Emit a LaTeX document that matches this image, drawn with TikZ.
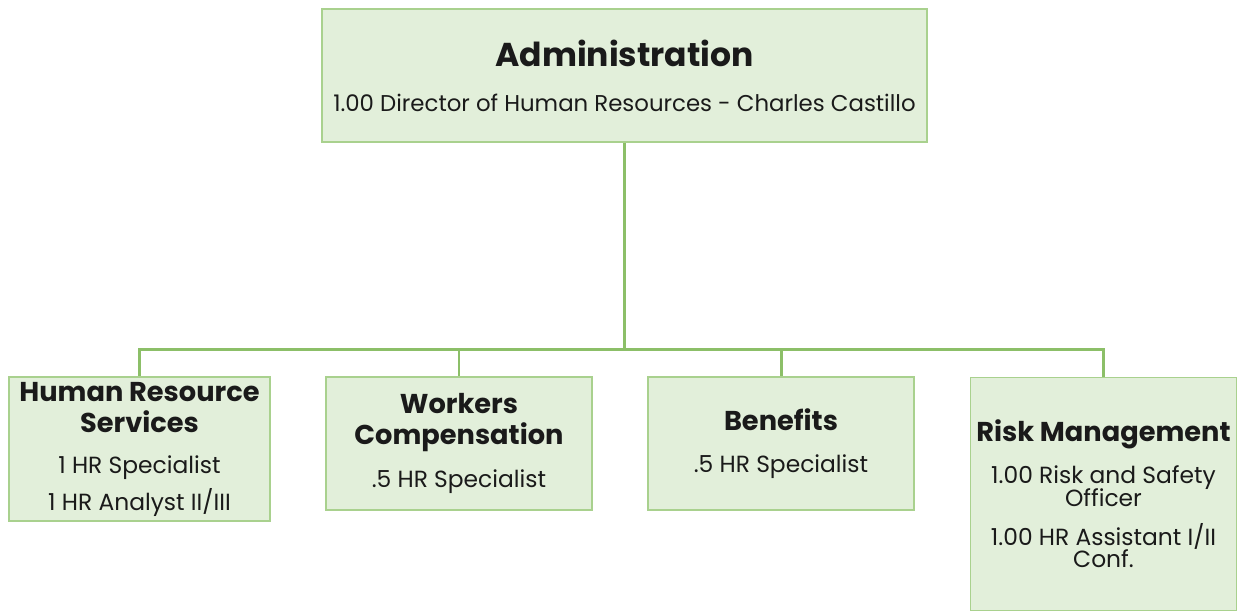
\documentclass[tikz,border=0pt]{standalone}
\usepackage{fontspec}
\setmainfont{Poppins}
\usetikzlibrary{positioning}
\definecolor{boxfill}{HTML}{E2EFDA}
\definecolor{boxline}{HTML}{A9D18E}
\definecolor{linkgreen}{HTML}{8CBF68}
\definecolor{ink}{HTML}{1A1A1A}
\newcommand{\unithead}{\fontsize{15.5}{16}\selectfont\bfseries}
\newcommand{\unitstaff}{\fontsize{13.3}{16}\selectfont\mdseries}
\newcommand{\unitbase}{\fontsize{13.3}{16}\selectfont\lineskiplimit-20pt\relax}
\tikzset{
  unit/.style={draw=boxline, fill=boxfill, line width=0.8pt, align=center,
    text=ink, inner sep=2pt, font=\unitbase},
  link/.style={draw=linkgreen, line width=1.7pt}
}
\begin{document}
\begin{tikzpicture}
\useasboundingbox (0,0) rectangle (24.76,-12.26);
\node[unit, minimum width=12.1cm, minimum height=2.66cm] (admin) at (12.49,-1.51)
  {{\fontsize{18.8}{16}\selectfont\bfseries Administration}\\[9.5pt]
   \fontsize{13}{16}\selectfont 1.00 Director of Human Resources - Charles Castillo};
\node[unit, minimum width=5.22cm, minimum height=2.88cm] (hrs) at (2.79,-8.98)
  {\unithead Human Resource\\[2pt] \unithead Services\\[7pt]
   \unitstaff 1 HR Specialist\\[5pt] \unitstaff 1 HR Analyst II/III};
\node[unit, minimum width=5.32cm, minimum height=2.66cm] (wc) at (9.18,-8.87)
  {\unithead Workers\\[1.6pt] \unithead Compensation\\[8pt] \unitstaff .5 HR Specialist};
\node[unit, minimum width=5.32cm, minimum height=2.66cm] (ben) at (15.62,-8.87)
  {\unithead Benefits\\[7.8pt] \unitstaff .5 HR Specialist};
\node[unit, minimum width=5.32cm, minimum height=4.66cm] (risk) at (22.07,-9.88)
  {\unithead Risk Management\\[7.8pt]
   \unitstaff 1.00 Risk and Safety\\[-3pt] \unitstaff Officer\\[6pt]
   \unitstaff 1.00 HR Assistant I/II\\[-3pt] \unitstaff Conf.};
\coordinate (bus) at (12.49,-6.98);
\draw[link] (admin.south) -- (bus);
\foreach \u in {hrs,wc,ben,risk}
  \draw[link] (bus) -| (\u.north);
\end{tikzpicture}
\end{document}
